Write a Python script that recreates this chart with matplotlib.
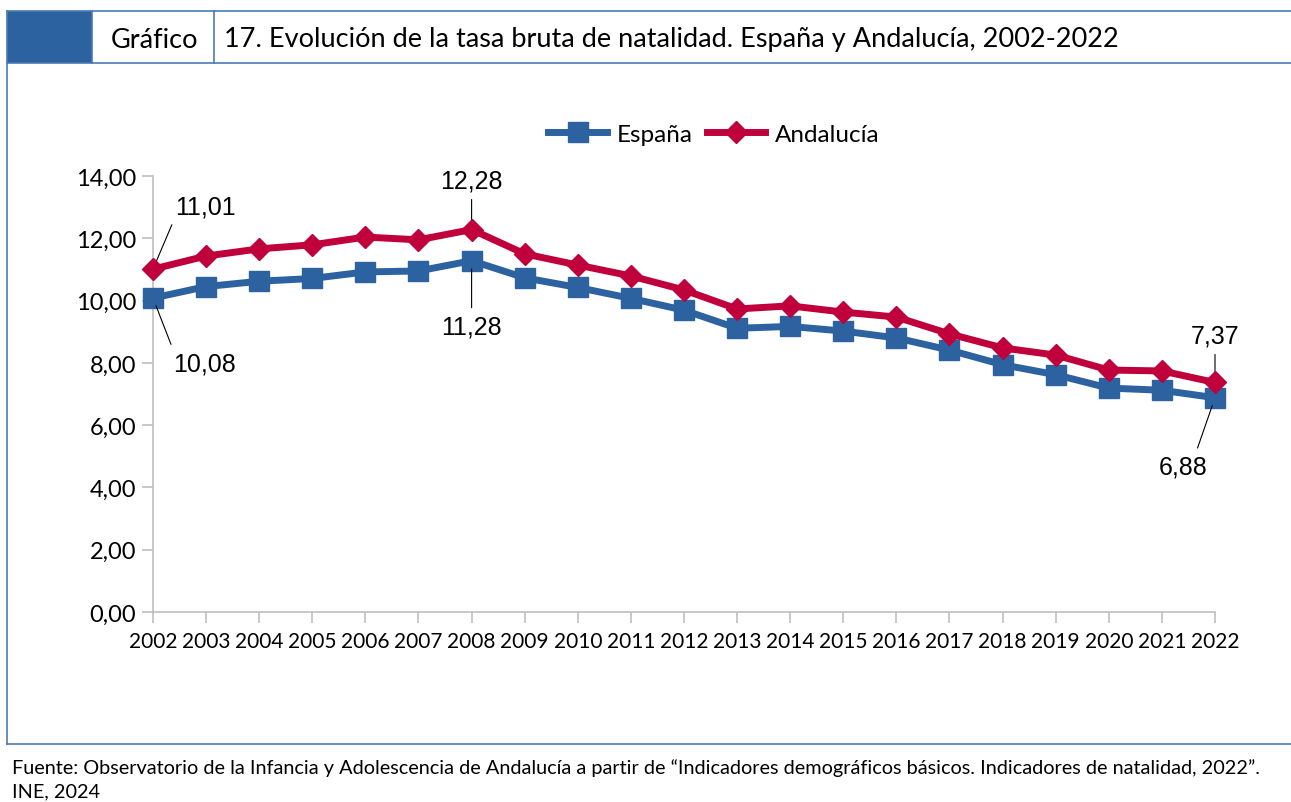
import numpy as np
import matplotlib.pyplot as plt
from matplotlib.lines import Line2D
from matplotlib.patches import Rectangle

years = list(range(2002, 2023))
espana = [10.08, 10.45, 10.62, 10.71, 10.92, 10.95, 11.28, 10.73, 10.42, 10.07,
          9.69, 9.11, 9.17, 9.02, 8.80, 8.41, 7.94, 7.62, 7.19, 7.12, 6.88]
andalucia = [11.01, 11.43, 11.66, 11.79, 12.04, 11.95, 12.28, 11.50, 11.14, 10.79,
             10.34, 9.73, 9.83, 9.63, 9.47, 8.93, 8.48, 8.25, 7.77, 7.74, 7.37]
yticks = np.arange(0, 15, 2)

blue = "#2C62A0"
red = "#C0003C"
ui_font = "Lato"

fig = plt.figure(figsize=(12.91, 8.03), dpi=100)
W, H = 1291, 803

def fx(px):
    return px / W

def fy(py):
    return 1 - py / H

# header band and frame
frame = "#4A7AB5"
fig.add_artist(Rectangle((fx(7), fy(64)), fx(92 - 7), (64 - 12) / H, transform=fig.transFigure,
                         facecolor=blue, edgecolor="none"))
for x0, x1, y in [(7, 1291, 12), (7, 1291, 64), (7, 1291, 745)]:
    fig.add_artist(Line2D([fx(x0), fx(x1)], [fy(y), fy(y)], transform=fig.transFigure, color=frame, lw=1.2))
for x, y0, y1 in [(7, 12, 745), (92, 12, 64), (214, 12, 64)]:
    fig.add_artist(Line2D([fx(x), fx(x)], [fy(y0), fy(y1)], transform=fig.transFigure, color=frame, lw=1.2))
fig.text(fx(154), fy(40), "Gráfico", ha="center", va="center", fontsize=19.5, family=ui_font)
fig.text(fx(224), fy(40), "17. Evolución de la tasa bruta de natalidad. España y Andalucía, 2002-2022",
         ha="left", va="center", fontsize=19.5, family=ui_font)
fig.text(fx(12), fy(768), "Fuente: Observatorio de la Infancia y Adolescencia de Andalucía a partir de "
         "\u201cIndicadores demográficos básicos. Indicadores de natalidad, 2022\u201d.",
         ha="left", va="center", fontsize=14.3, family=ui_font)
fig.text(fx(12), fy(792), "INE, 2024", ha="left", va="center", fontsize=14.3, family=ui_font)

ax = fig.add_axes([fx(153), fy(613), fx(1215 - 153), (613 - 177) / H])
ax.plot(years, espana, color=blue, lw=5, marker="s", markersize=14, label="España", zorder=3, clip_on=False)
ax.plot(years, andalucia, color=red, lw=5, marker="D", markersize=11, label="Andalucía", zorder=4, clip_on=False)

ax.set_xlim(2002, 2022)
ax.set_ylim(0, 14)
ax.set_xticks(years)
ax.set_xticklabels([str(y) for y in years], fontsize=15, family=ui_font)
ax.set_yticks(yticks)
ax.set_yticklabels([f"{v:.2f}".replace(".", ",") for v in yticks], fontsize=17, family=ui_font)
for s in ["top", "right"]:
    ax.spines[s].set_visible(False)
for s in ["left", "bottom"]:
    ax.spines[s].set_color("#BFBFBF")
    ax.spines[s].set_linewidth(1.2)
ax.tick_params(axis="both", color="#BFBFBF", width=1.2, length=8)
ax.tick_params(axis="x", pad=6)
ax.tick_params(axis="y", pad=4)

def fmt(v):
    return f"{v:.2f}".replace(".", ",")

labels = [
    (years[0], andalucia[0], (52, 63), (0, 0)),
    (years[0], espana[0], (52, -65), (0, 1)),
    (years[6], andalucia[6], (0, 49), (0.5, 0)),
    (years[6], espana[6], (0, -66), (0.5, 1)),
    (years[-1], andalucia[-1], (0, 47), (0.5, 0)),
    (years[-1], espana[-1], (-32, -69), (0.75, 1)),
]
for x, y, off, rel in labels:
    ax.annotate(fmt(y), (x, y), xytext=off, textcoords="offset pixels", ha="center", va="center",
                fontsize=18, family="Liberation Sans", annotation_clip=False,
                arrowprops=dict(arrowstyle="-", color="black", lw=0.8, relpos=rel, shrinkA=3, shrinkB=6))

fig.legend(handles=ax.lines, loc="center", bbox_to_anchor=(fx(714), fy(135)), ncol=2, frameon=False,
           prop={"family": ui_font, "size": 17.5}, handlelength=2.4, columnspacing=0.6, handletextpad=0.4)

fig.savefig("out.png", dpi=100)
